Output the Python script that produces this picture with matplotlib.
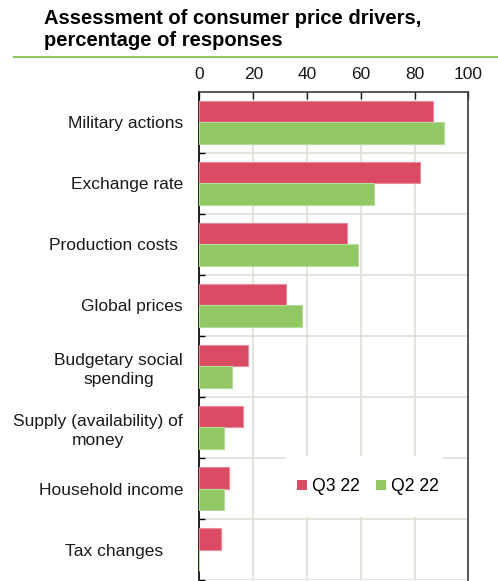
import matplotlib
matplotlib.use("Agg")
from matplotlib import pyplot as plt
from matplotlib.patches import Patch, Rectangle
import numpy as np

plt.rcParams['font.family'] = ['Liberation Sans', 'DejaVu Sans']

categories = ["Military actions", "Exchange rate", "Production costs ",
              "Global prices", "Budgetary social\nspending",
              "Supply (availability) of\nmoney", "Household income",
              "Tax changes    "]
q3_22 = [87, 82, 55, 32, 18, 16, 11, 8]
q2_22 = [91, 65, 59, 38, 12, 9, 9, 0]
series_names = ["Q3 22", "Q2 22"]

red = "#dc4b64"
green = "#92c864"

fig = plt.figure(figsize=(4.98, 5.81), dpi=100)
ax = fig.add_axes([0.4006, 0.0017, 0.5398, 0.84])

y = np.arange(len(categories))
h = 0.36
ax.barh(y - h / 2, q3_22, height=h, color=red, edgecolor="#e98a9b",
        linewidth=0.8, zorder=3)
ax.barh(y + h / 2, q2_22, height=h, color=green, edgecolor="#b4dc98",
        linewidth=0.8, zorder=3)

ax.set_xlim(0, 100)
ax.set_ylim(len(categories) - 0.5, -0.5)

# x axis on top
ax.xaxis.tick_top()
ax.set_xticks(np.arange(0, 101, 20))
ax.tick_params(axis="x", direction="in", length=5, width=1, pad=7,
               labelsize=12.5, colors="#1a1a1a")

# category labels, ticks on the band boundaries
ax.set_yticks(y)
ax.set_yticklabels(categories, multialignment="center", linespacing=1.3)
ax.set_yticks(np.arange(len(categories)) + 0.5, minor=True)
ax.tick_params(axis="y", which="major", length=0, pad=11.8, labelsize=12.5,
               colors="#1a1a1a")
ax.tick_params(axis="y", which="minor", direction="in", length=4, width=1,
               color="#000000")

ax.grid(axis="x", color="#dedfd6", linewidth=1.2, zorder=0)
ax.grid(axis="y", which="minor", color="#dedfd6", linewidth=1.2, zorder=0)
ax.set_axisbelow(True)

for side in ["left", "top", "right"]:
    ax.spines[side].set_color("#3a3a3a")
    ax.spines[side].set_linewidth(1.2)
ax.spines["left"].set_color("#000000")
ax.spines["bottom"].set_visible(False)

# white box behind the legend
ax.add_patch(Rectangle((0.322, 0.129), 0.584, 0.125, transform=ax.transAxes,
                       facecolor="white", edgecolor="none", zorder=2))
handles = [Patch(facecolor=red, edgecolor="none"),
           Patch(facecolor=green, edgecolor="none")]
ax.legend(handles, series_names, loc="center", bbox_to_anchor=(0.627, 0.191),
          ncol=2, frameon=False, fontsize=12.7, handlelength=0.55,
          handleheight=0.55, handletextpad=0.3, columnspacing=0.9)

fig.text(0.088, 0.985, "Assessment of consumer price drivers,\npercentage of responses",
         fontsize=14.5, fontweight="bold", va="top", ha="left", linespacing=1.25,
         color="#000000")
fig.add_artist(plt.Line2D([0.028, 1.0], [0.902, 0.902], color="#92c864",
                          linewidth=1.5, transform=fig.transFigure))

fig.savefig("out.png", dpi=100)
